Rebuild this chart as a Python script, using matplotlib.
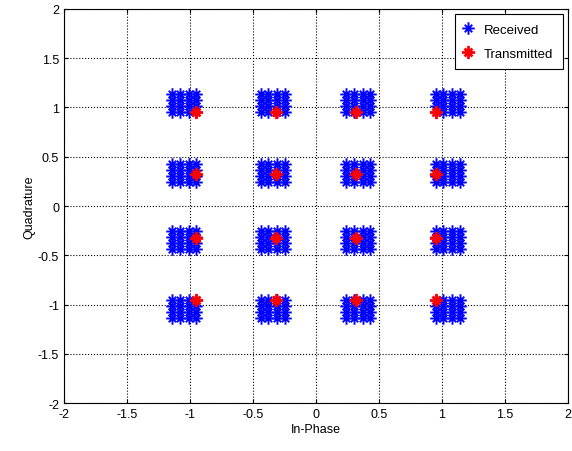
import matplotlib.pyplot as plt
from matplotlib.path import Path
import numpy as np

plt.rcParams['font.family'] = ['Liberation Sans', 'DejaVu Sans']

# transmitted 16-QAM symbol levels (same on I and Q)
tx_levels = [-0.95, -0.32, 0.32, 0.95]

# received sample levels seen in the picture (same on I and Q)
rx_levels = [-1.14, -1.08, -1.01, -0.95,
             -0.44, -0.38, -0.31, -0.25,
             0.24, 0.30, 0.37, 0.43,
             0.95, 1.01, 1.08, 1.14]

tick_vals = [-2, -1.5, -1, -0.5, 0, 0.5, 1, 1.5, 2]
tick_labels = ["-2", "-1.5", "-1", "-0.5", "0", "0.5", "1", "1.5", "2"]

rx_i, rx_q = np.meshgrid(rx_levels, rx_levels)
tx_i, tx_q = np.meshgrid(tx_levels, tx_levels)

# MATLAB style asterisk: a plus with shorter diagonal arms
d = 0.6
star = Path([(-1, 0), (1, 0), (0, -1), (0, 1),
             (-d, -d), (d, d), (-d, d), (d, -d)],
            [Path.MOVETO, Path.LINETO] * 4)

fig = plt.figure(figsize=(5.72, 4.52), dpi=100)
ax = fig.add_axes([0.112, 0.106, 0.881, 0.872])

ax.plot(rx_i.ravel(), rx_q.ravel(), linestyle='none', marker=star,
        markersize=9, markeredgewidth=1.4, color='#0000ff', label='Received')
ax.plot(tx_i.ravel(), tx_q.ravel(), linestyle='none', marker=star,
        markersize=9.5, markeredgewidth=2.0, color='#ff0000', label='Transmitted')

ax.set_xlim(-2, 2)
ax.set_ylim(-2, 2)
ax.set_xticks(tick_vals)
ax.set_xticklabels(tick_labels)
ax.set_yticks(tick_vals)
ax.set_yticklabels(tick_labels)
ax.tick_params(direction='in', top=True, right=True, labelsize=9, length=3)
ax.grid(True, color='black', linestyle=':', linewidth=0.8)
ax.set_xlabel('In-Phase', fontsize=9, labelpad=2)
ax.set_ylabel('Quadrature', fontsize=9, labelpad=2)

leg = ax.legend(loc='upper right', fontsize=9.5, fancybox=False, framealpha=1,
                edgecolor='black', borderaxespad=0.4, handletextpad=0.9,
                handlelength=0.6, borderpad=0.7, labelspacing=0.9)
leg.get_frame().set_linewidth(0.8)

fig.savefig('out.png', dpi=100)
